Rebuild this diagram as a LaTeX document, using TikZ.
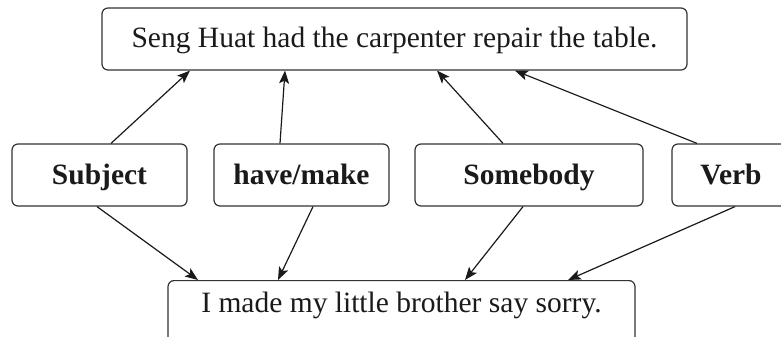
\documentclass[tikz,border=0pt]{standalone}
\usepackage{fontspec}
\setmainfont{Liberation Serif}
\usetikzlibrary{arrows.meta}
\definecolor{edge}{HTML}{333333}
\definecolor{ink}{HTML}{1A1A1A}
\tikzset{
  box/.style={draw=edge, line width=1.2pt, rounded corners=6pt, inner sep=0pt,
    minimum height=62pt, text height=23pt, text depth=5pt, text=ink,
    font=\fontsize{29.5}{34}\selectfont},
  termbox/.style={box, font=\fontsize{29.5}{34}\selectfont\bfseries},
  link/.style={draw=ink, line width=1.2pt, -{Stealth[length=13pt,width=10pt,inset=3pt]}}
}
\begin{document}
\begin{tikzpicture}[x=1pt,y=-1pt]
  \useasboundingbox (0,0) rectangle (781,337);

  % example sentences
  \node[box, minimum width=585pt] (top) at (394.5,39) {Seng Huat had the carpenter repair the table.};
  \node[box, minimum width=467pt, anchor=north, text height=32pt, text depth=45pt]
    (bot) at (401.5,280) {I made my little brother say sorry.};

  % sentence pattern terms
  \node[termbox, minimum width=175pt] (sub)  at (99.5,175)  {Subject};
  \node[termbox, minimum width=175pt] (have) at (301.5,175) {have/make};
  \node[termbox, minimum width=228pt] (some) at (529,175)   {Somebody};
  \node[termbox, minimum width=118pt] (verb) at (731,175)   {Verb};

  % terms to the upper sentence
  \draw[link] ([xshift=11.5pt]sub.north)  -- ([xshift=-204.5pt]top.south);
  \draw[link] ([xshift=-21.5pt]have.north) -- ([xshift=-109.5pt]top.south);
  \draw[link] ([xshift=-26pt]some.north)  -- ([xshift=42.5pt]top.south);
  \draw[link] ([xshift=-34pt]verb.north)  -- ([xshift=120.5pt]top.south);

  % terms to the lower sentence
  \draw[link] ([xshift=-2.5pt]sub.south)  -- ([xshift=-203.5pt]bot.north);
  \draw[link] ([xshift=11.5pt]have.south) -- ([xshift=-123.5pt]bot.north);
  \draw[link] ([xshift=-6pt]some.south)   -- ([xshift=63.5pt]bot.north);
  \draw[link] ([xshift=4pt]verb.south)    -- ([xshift=166.5pt]bot.north);
\end{tikzpicture}
\end{document}
